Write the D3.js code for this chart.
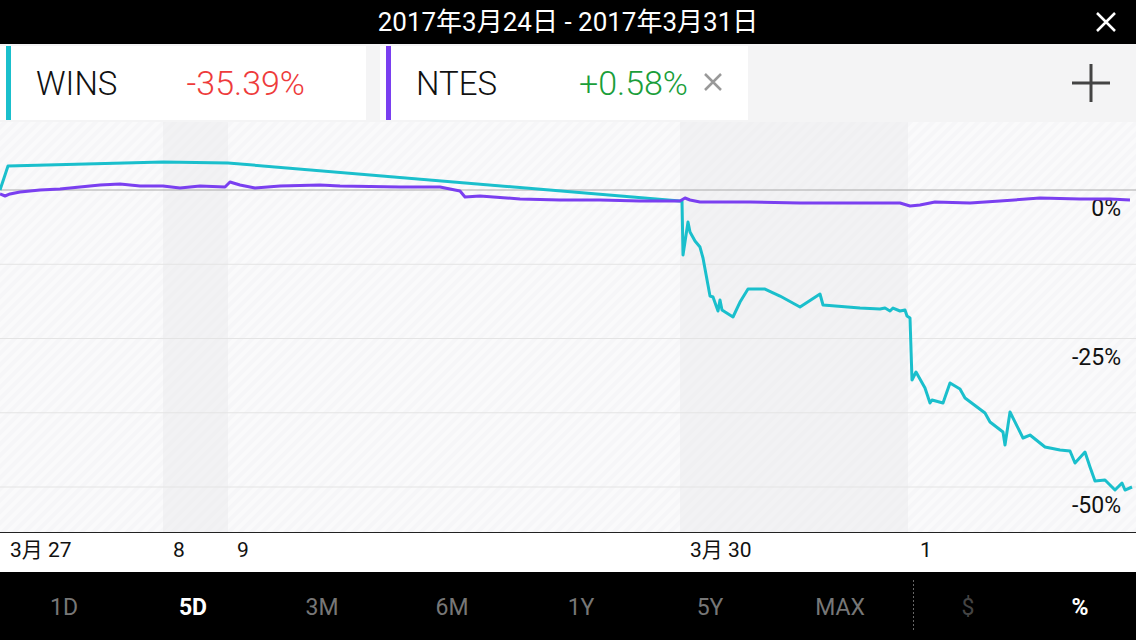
<!DOCTYPE html>
<html><head><meta charset="utf-8">
<script src="https://cdn.jsdelivr.net/npm/d3@7"></script>
<style>body{margin:0;background:#fff;overflow:hidden}svg{display:block;font-family:"Helvetica Neue",Roboto,"Noto Sans CJK SC",sans-serif}</style>
</head><body><svg id="c" width="1136" height="640"></svg>
<script>
// x values are trading-time index units (0..1136), y values are % change
const winsData=[[0,190],[8,166],[163,162],[228,163],[680,201],[682,201],[683,255],[688,222],[690,232],[695,241],[700,247],[703,258],[710,296],[713,297],[718,311],[720,300],[722,310],[733,317],[740,302],[748,289],[765,289],[780,296],[800,307],[820,294],[823,305],[860,308],[880,309],[885,308],[890,311],[893,308],[900,311],[905,310],[907,316],[910,318],[912,380],[916,372],[925,388],[930,403],[932,400],[943,403],[950,383],[960,389],[965,398],[985,413],[990,422],[1003,432],[1005,445],[1010,412],[1023,438],[1030,435],[1045,447],[1060,450],[1070,451],[1075,463],[1085,452],[1090,467],[1095,481],[1105,480],[1115,490],[1122,483],[1125,490],[1132,487]].map(d=>[d[0],+((190-d[1])/148.5*25).toFixed(2)]);
const ntesData=[[0,194],[5,196],[10,194],[20,192],[40,190],[60,189],[80,187],[100,185],[120,184],[140,186],[163,186],[180,188],[200,186],[225,187],[230,182],[240,185],[255,188],[280,186],[320,185],[340,186],[400,187],[440,187],[460,191],[465,197],[480,196],[520,199],[560,200],[600,200],[640,201],[665,201],[680,201],[685,198],[690,200],[700,202],[750,202],[800,203],[850,203],[900,203],[910,206],[920,205],[935,202],[970,203],[1000,201],[1040,198],[1080,199],[1110,199],[1130,200]].map(d=>[d[0],+((190-d[1])/148.5*25).toFixed(2)]);
const bands=[[163,228],[680,908]];
const xTicks=[[10,"3月 27"],[173,"8"],[237,"9"],[690,"3月 30"],[920,"1"]];
const yTicks=[0,-25,-50];
const grid=[0,-12.5,-25,-37.5,-50];
const tabs=["1D","5D","3M","6M","1Y","5Y","MAX","$","%"];
const tabX=[64,193,322,452,581,710,840,968,1080];

const svg=d3.select("#c");
const x=d3.scaleLinear().domain([0,1136]).range([0,1136]);
const y=d3.scaleLinear().domain([0,-50]).range([190,487]);
const defs=svg.append("defs");
const p=defs.append("pattern").attr("id","st").attr("width",8).attr("height",8).attr("patternUnits","userSpaceOnUse").attr("patternTransform","rotate(45)");
p.append("rect").attr("width",8).attr("height",8).attr("fill","#fafafb");
p.append("rect").attr("width",4).attr("height",8).attr("fill","#f6f6f8");
svg.append("rect").attr("y",122).attr("width",1136).attr("height",410).attr("fill","url(#st)");
svg.selectAll(".b").data(bands).join("rect").attr("x",d=>x(d[0])).attr("width",d=>x(d[1])-x(d[0])).attr("y",122).attr("height",410).attr("fill","#e8e8ec").attr("opacity",0.45);
svg.selectAll(".g").data(grid).join("line").attr("x1",0).attr("x2",1136).attr("y1",d=>y(d)).attr("y2",d=>y(d)).attr("stroke",d=>d===0?"#aaa":"#e4e4e4").attr("stroke-width",1);
svg.selectAll(".yt").data(yTicks).join("text").attr("x",1121).attr("y",d=>y(d)+26).attr("text-anchor","end").attr("font-size",23).attr("fill","#111").text(d=>d+"%");
const line=d3.line().x(d=>x(d[0])).y(d=>y(d[1]));
svg.append("path").datum(winsData).attr("d",line).attr("fill","none").attr("stroke","#1abfcc").attr("stroke-width",3).attr("stroke-linejoin","round");
svg.append("path").datum(ntesData).attr("d",line).attr("fill","none").attr("stroke","#7a3ff0").attr("stroke-width",3).attr("stroke-linejoin","round");
svg.append("line").attr("x1",0).attr("x2",1136).attr("y1",532.5).attr("y2",532.5).attr("stroke","#222");
svg.selectAll(".xt").data(xTicks).join("text").attr("x",d=>x(d[0])).attr("y",557).attr("font-size",21).attr("fill","#111").text(d=>d[1]);
// header
svg.append("rect").attr("width",1136).attr("height",44).attr("fill","#000");
svg.append("text").attr("x",568).attr("y",31).attr("text-anchor","middle").attr("fill","#fff").attr("font-size",26).text("2017年3月24日 - 2017年3月31日");
svg.append("path").attr("d","M1097,13L1115,31M1115,13L1097,31").attr("stroke","#fff").attr("stroke-width",2.5);
// legend area
svg.append("rect").attr("y",44).attr("width",1136).attr("height",78).attr("fill","#f4f4f5");
const cards=[{x:0,w:366,c:"#1abfcc",n:"WINS",v:"-35.39%",vc:"#ee3b3b",vx:305,close:false},{x:380,w:368,c:"#7a3ff0",n:"NTES",v:"+0.58%",vc:"#1a9e3a",vx:688,close:true}];
cards.forEach(k=>{
 svg.append("rect").attr("x",k.x).attr("y",46).attr("width",k.w).attr("height",74).attr("fill","#fff");
 svg.append("rect").attr("x",k.x+6).attr("y",46).attr("width",5).attr("height",74).attr("fill",k.c);
 svg.append("text").attr("x",k.x+36).attr("y",95).attr("font-size",33).attr("font-weight",300).attr("fill","#111").text(k.n);
 svg.append("text").attr("x",k.vx).attr("y",95).attr("text-anchor","end").attr("font-size",34).attr("font-weight",300).attr("fill",k.vc).text(k.v);
 if(k.close) svg.append("path").attr("d","M705,74L721,90M721,74L705,90").attr("stroke","#999").attr("stroke-width",2.5);
});
svg.append("path").attr("d","M1072,83L1110,83M1091,64L1091,102").attr("stroke","#444").attr("stroke-width",3);
// bottom bar
svg.append("rect").attr("y",572).attr("width",1136).attr("height",68).attr("fill","#000");
svg.append("line").attr("x1",913.5).attr("x2",913.5).attr("y1",580).attr("y2",632).attr("stroke","#666").attr("stroke-dasharray","2,2");
svg.selectAll(".tab").data(tabs).join("text").attr("x",(d,i)=>tabX[i]).attr("y",615).attr("text-anchor","middle").attr("font-size",23)
 .attr("font-weight",d=>d==="5D"||d==="%"?"bold":"normal").attr("fill",d=>d==="5D"||d==="%"?"#fff":(d==="$"?"#444":"#777")).text(d=>d);
</script></body></html>
